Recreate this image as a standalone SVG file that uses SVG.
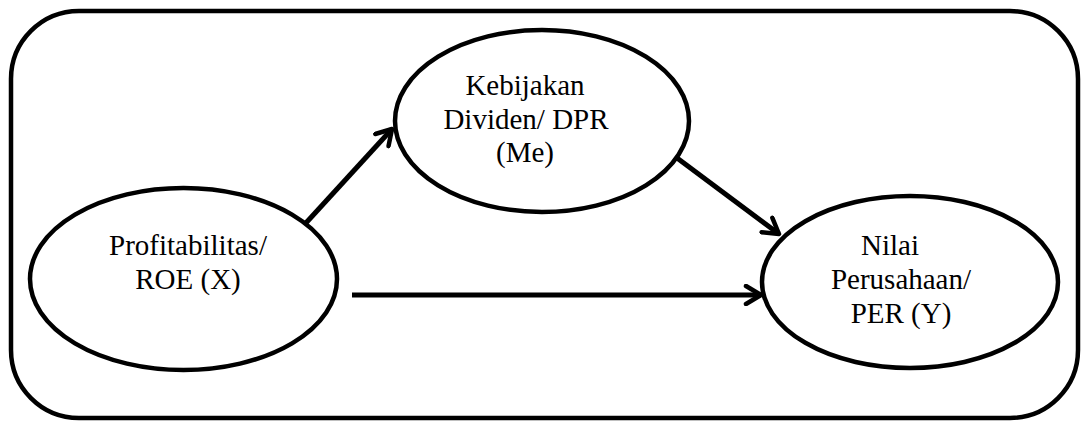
<svg xmlns="http://www.w3.org/2000/svg" width="1083" height="421" viewBox="0 0 1083 421">
  <style>
    .frame { fill: none; stroke: #000; stroke-width: 4.5; }
    .node ellipse { fill: #fff; stroke: #000; stroke-width: 4.5; }
    .node text { font-family: "Liberation Serif", Tinos, "Times New Roman", Times, "DejaVu Serif", serif; font-size: 29px; fill: #000; text-anchor: middle; }
    .edge { fill: none; stroke: #000; stroke-width: 5; marker-end: url(#arrow); }
  </style>
  <defs>
    <marker id="arrow" viewBox="0 0 22 22" refX="19" refY="11" markerWidth="22" markerHeight="22" markerUnits="userSpaceOnUse" orient="auto">
      <path d="M4,2 L19,11 L4,20" fill="none" stroke="#000" stroke-width="4.5" stroke-linecap="round" stroke-linejoin="round"/>
    </marker>
  </defs>
  <rect width="1083" height="421" fill="#fff"/>

  <!-- outer frame -->
  <rect class="frame" x="11" y="11" width="1067" height="407" rx="68" ry="68"/>

  <!-- connectors -->
  <g id="connectors">
    <line class="edge" x1="305" y1="224" x2="392" y2="129"/>
    <line class="edge" x1="669" y1="152" x2="779" y2="234"/>
    <line class="edge" x1="352" y1="295" x2="761" y2="295"/>
  </g>

  <g id="node-x" class="node">
    <ellipse cx="183.5" cy="279" rx="153.5" ry="91"/>
    <text x="188" y="255" font-family="Liberation Serif, serif">Profitabilitas/</text>
    <text x="188" y="289" font-family="Liberation Serif, serif">ROE (X)</text>
  </g>

  <g id="node-me" class="node">
    <ellipse cx="542" cy="121" rx="147" ry="91"/>
    <text x="525" y="95">Kebijakan</text>
    <text x="526" y="129">Dividen/ DPR</text>
    <text x="525" y="162">(Me)</text>
  </g>

  <g id="node-y" class="node">
    <ellipse cx="910" cy="282" rx="148" ry="86"/>
    <text x="890" y="255">Nilai</text>
    <text x="901" y="289">Perusahaan/</text>
    <text x="901" y="323">PER (Y)</text>
  </g>
</svg>
